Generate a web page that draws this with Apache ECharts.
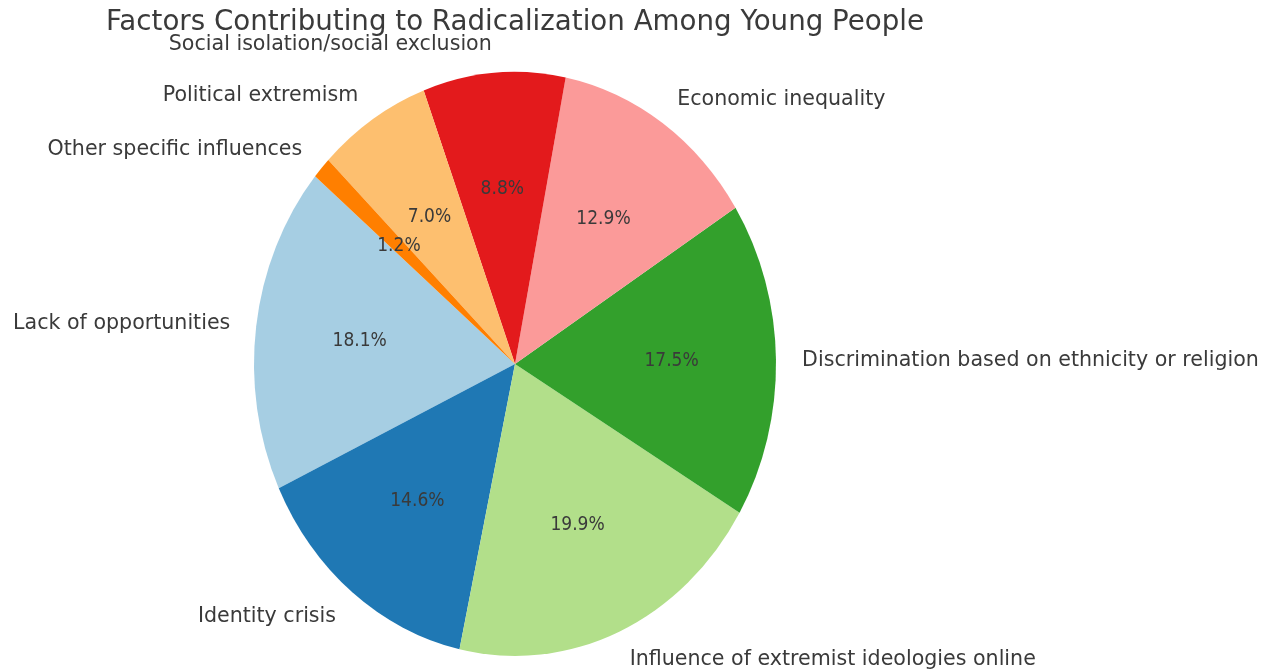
<!DOCTYPE html>
<html>
<head>
<meta charset="utf-8">
<script src="https://cdn.jsdelivr.net/npm/echarts@6/dist/echarts.min.js"></script>
<style>
  html, body { margin: 0; padding: 0; background: #fff; }
  #chart { width: 1279px; height: 672px; }
</style>
</head>
<body>
<div id="chart"></div>
<script>
// Slice names, shares (%) and colours, listed counter-clockwise from the start angle
const categories = [
  'Lack of opportunities',
  'Identity crisis',
  'Influence of extremist ideologies online',
  'Discrimination based on ethnicity or religion',
  'Economic inequality',
  'Social isolation/social exclusion',
  'Political extremism',
  'Other specific influences'
];
const values = [18.1, 14.6, 19.9, 17.5, 12.9, 8.8, 7.0, 1.2];
const colors = ['#a6cee3', '#1f78b4', '#b2df8a', '#33a02c', '#fb9a99', '#e31a1c', '#fdbf6f', '#ff7f00'];
const titleText = 'Factors Contributing to Radicalization Among Young People';

// Pie geometry (the pie is drawn slightly narrower than tall)
const START_DEG = 140;
const CX = 515, CY = 364, RY = 292, RX = 261;
const LABEL_DIST = 1.1, PCT_DIST = 0.6;
const FONT = '"DejaVu Sans", sans-serif';
const FONT_NARROW = '"DejaVu Sans Condensed", "DejaVu Sans", sans-serif';
const TEXT_COLOR = '#3a3a3a';

const total = values.reduce((a, b) => a + b, 0);
const cumulative = [];
values.reduce((acc, v, i) => { cumulative[i] = acc; return acc + v; }, 0);

function renderSlice(params, api) {
  const i = params.dataIndex;
  const v = api.value(1);
  const a1 = START_DEG + cumulative[i] / total * 360;
  const a2 = a1 + v / total * 360;
  const mid = (a1 + a2) / 2 * Math.PI / 180;
  const cosM = Math.cos(mid), sinM = Math.sin(mid);
  const toRad = d => -d * Math.PI / 180;
  return {
    type: 'group',
    children: [
      {
        type: 'group',
        x: CX, y: CY,
        scaleX: RX / RY,
        children: [{
          type: 'sector',
          shape: { cx: 0, cy: 0, r0: 0, r: RY, startAngle: toRad(a2), endAngle: toRad(a1), clockwise: true },
          style: { fill: colors[i] }
        }]
      },
      {
        type: 'text',
        x: CX + LABEL_DIST * RX * cosM,
        y: CY - LABEL_DIST * RY * sinM + 1,
        style: {
          text: categories[i],
          align: cosM >= 0 ? 'left' : 'right',
          verticalAlign: 'middle',
          fontFamily: FONT,
          fontSize: 20.6,
          fill: TEXT_COLOR
        }
      },
      {
        type: 'text',
        x: CX + PCT_DIST * RX * cosM,
        y: CY - PCT_DIST * RY * sinM,
        z2: 10,
        style: {
          text: (v / total * 100).toFixed(1) + '%',
          align: 'center',
          verticalAlign: 'middle',
          fontFamily: FONT_NARROW,
          fontSize: 19,
          fill: TEXT_COLOR
        }
      }
    ]
  };
}

const chart = echarts.init(document.getElementById('chart'), null, { renderer: 'canvas' });
chart.setOption({
  animation: false,
  backgroundColor: '#ffffff',
  graphic: [{
    type: 'text',
    x: CX,
    y: 23,
    style: {
      text: titleText,
      align: 'center',
      verticalAlign: 'middle',
      fontFamily: FONT,
      fontSize: 27.7,
      fill: TEXT_COLOR
    }
  }],
  series: [{
    type: 'custom',
    coordinateSystem: 'none',
    data: values.map((v, i) => [i, v]),
    renderItem: renderSlice
  }]
});
</script>
</body>
</html>
